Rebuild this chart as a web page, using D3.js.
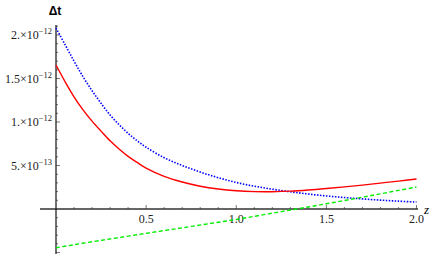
<!DOCTYPE html>
<html>
<head>
<meta charset="utf-8">
<script src="https://cdn.jsdelivr.net/npm/d3@7"></script>
<style>
  body { margin: 0; background: #fff; }
</style>
</head>
<body>
<div id="chart"></div>
<script>
// values in units of 1e-12
var zVals = [0, 0.05, 0.1, 0.15, 0.2, 0.25, 0.3, 0.35, 0.4, 0.45, 0.5, 0.6, 0.7, 0.8, 0.9, 1.0,
             1.1, 1.2, 1.3, 1.4, 1.5, 1.6, 1.7, 1.8, 1.9, 2.0];
var redVals = [1.655, 1.465, 1.29, 1.14, 1.01, 0.895, 0.785, 0.69, 0.605, 0.535, 0.47, 0.375, 0.31, 0.262, 0.23, 0.21,
               0.2, 0.199, 0.205, 0.218, 0.235, 0.254, 0.275, 0.298, 0.321, 0.345];
var blueVals = [2.08, 1.89, 1.7, 1.52, 1.36, 1.215, 1.08, 0.97, 0.87, 0.785, 0.71, 0.59, 0.5, 0.425, 0.36, 0.305,
                0.262, 0.228, 0.198, 0.172, 0.15, 0.132, 0.116, 0.102, 0.09, 0.08];
var greenZ = [0, 0.25, 0.5, 0.75, 1.0, 1.25, 1.5, 1.75, 2.0];
var greenVals = [-0.445, -0.36, -0.28, -0.2, -0.12, -0.03, 0.06, 0.155, 0.253];
var xTicks = [0.5, 1.0, 1.5, 2.0];
var xTickLabels = ["0.5", "1.0", "1.5", "2.0"];
var yTicks = [0.5, 1.0, 1.5, 2.0];
var yTickMant = ["5.", "1.", "1.5", "2."];
var yTickExp = ["\u221213", "\u221212", "\u221212", "\u221212"];

var width = 436, height = 254;
var serif = "'Liberation Serif', 'Times New Roman', 'DejaVu Serif', serif";

var x = d3.scaleLinear().domain([0, 2]).range([56, 416.5]);
var y = d3.scaleLinear().domain([0, 2]).range([209, 35]);

var svg = d3.select("#chart").append("svg")
    .attr("width", width)
    .attr("height", height);

// minor ticks
var xMinor = d3.range(1, 21).map(function(i) { return i / 10; });
svg.selectAll(".xminor")
    .data(xMinor)
    .enter().append("line")
    .attr("x1", function(d) { return x(d); })
    .attr("x2", function(d) { return x(d); })
    .attr("y1", y(0))
    .attr("y2", function(d, i) { return (i + 1) % 5 === 0 ? y(0) - 4 : y(0) - 2; })
    .attr("stroke", "#555")
    .attr("stroke-width", 0.8);

var yMinor = d3.range(-5, 22).map(function(i) { return i / 10; }).filter(function(d) { return d !== 0; });
svg.selectAll(".yminor")
    .data(yMinor)
    .enter().append("line")
    .attr("x1", x(0))
    .attr("x2", function(d) { return Math.abs(Math.round(d * 10)) % 5 === 0 ? x(0) + 4 : x(0) + 2; })
    .attr("y1", function(d) { return y(d); })
    .attr("y2", function(d) { return y(d); })
    .attr("stroke", "#555")
    .attr("stroke-width", 0.8);

// axes lines
svg.append("line")
    .attr("x1", 40).attr("x2", 418)
    .attr("y1", y(0)).attr("y2", y(0))
    .attr("stroke", "#333").attr("stroke-width", 1.3);
svg.append("line")
    .attr("x1", x(0)).attr("x2", x(0))
    .attr("y1", 25).attr("y2", 254)
    .attr("stroke", "#111").attr("stroke-width", 1.2);

// tick labels
svg.selectAll(".xlab")
    .data(xTicks)
    .enter().append("text")
    .attr("x", function(d) { return x(d); })
    .attr("y", y(0) + 14)
    .attr("text-anchor", "middle")
    .attr("font-family", serif)
    .attr("font-size", 12)
    .attr("fill", "#222")
    .text(function(d, i) { return xTickLabels[i]; });

var ylab = svg.selectAll(".ylab")
    .data(yTicks)
    .enter().append("text")
    .attr("x", 52)
    .attr("y", function(d) { return y(d) + 4; })
    .attr("text-anchor", "end")
    .attr("font-family", serif)
    .attr("font-size", 12)
    .attr("fill", "#222");
ylab.append("tspan").text(function(d, i) { return yTickMant[i] + "\u00d710"; });
ylab.append("tspan")
    .attr("dy", -5)
    .attr("font-size", 8.5)
    .text(function(d, i) { return yTickExp[i]; });

// curves
var line = d3.line()
    .x(function(d) { return x(d[0]); })
    .y(function(d) { return y(d[1]); })
    .curve(d3.curveCatmullRom.alpha(0.5));

svg.append("path")
    .datum(d3.zip(zVals, blueVals))
    .attr("d", line)
    .attr("fill", "none")
    .attr("stroke", "#0000ff")
    .attr("stroke-width", 1.6)
    .attr("stroke-dasharray", "1.5,1.5");

svg.append("path")
    .datum(d3.zip(zVals, redVals))
    .attr("d", line)
    .attr("fill", "none")
    .attr("stroke", "#ff0000")
    .attr("stroke-width", 1.4);

svg.append("path")
    .datum(d3.zip(greenZ, greenVals))
    .attr("d", line)
    .attr("fill", "none")
    .attr("stroke", "#00ee00")
    .attr("stroke-width", 1.4)
    .attr("stroke-dasharray", "4,2.5");

// axis titles
svg.append("text")
    .attr("x", 55)
    .attr("y", 15)
    .attr("text-anchor", "middle")
    .attr("font-size", 12)
    .attr("font-weight", "bold")
    .attr("font-family", "'Liberation Sans', Arial, sans-serif")
    .text("\u0394t");

svg.append("text")
    .attr("x", 424)
    .attr("y", 214)
    .attr("font-family", serif)
    .attr("font-size", 13)
    .attr("font-style", "italic")
    .text("z");
</script>
</body>
</html>
